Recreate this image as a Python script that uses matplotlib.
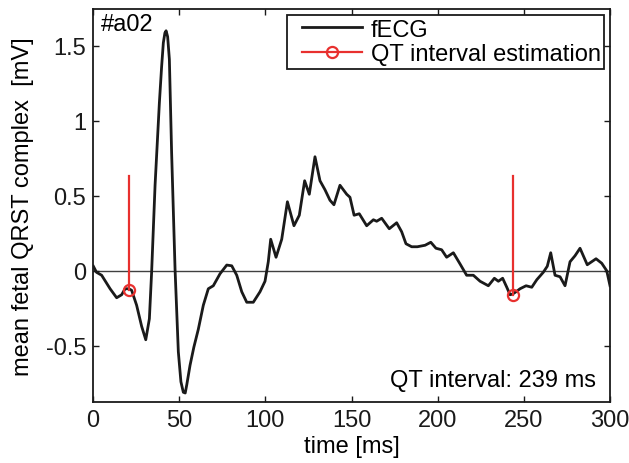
import numpy as np
import matplotlib
matplotlib.use("Agg")
import matplotlib.pyplot as plt
from matplotlib.lines import Line2D
from matplotlib.legend_handler import HandlerLine2D

plt.rcParams['font.family'] = ['Liberation Sans', 'DejaVu Sans']
plt.rcParams['axes.unicode_minus'] = False

# mean fetal QRST complex
time_ms = [0.2, 2, 5, 9.9, 13.7, 16.6, 18.6, 20.7, 22.4, 25.3, 28.2, 30.6, 32.7, 34, 36,
           38.5, 39.8, 40.8, 41.7, 42.4, 43.3, 44.3, 45.6, 47.6, 49.5, 51, 52.4, 53.5,
           54.4, 56.3, 58.5, 61.1, 64,
           66.9, 69.8, 73.7, 77.6, 80.5, 83.4, 86.3, 89.2, 93, 96.9, 99.8, 101.7, 103.1,
           106.2, 109.5, 112.8, 116.6, 119.7, 122.8, 125.5, 128.8, 131.7, 134.6, 137.5,
           139.8, 143.3, 147.2, 149.1, 151.5, 154.5, 158.8, 162.7, 164.6, 167.5, 171.9,
           176.2, 179.1, 181.6, 184.9, 188.2, 192.7, 196, 199, 202.3, 205.2, 209.1, 213,
           216.8, 220.7, 224.6, 229.4, 232.9, 235.2, 237.7, 240.1, 242, 243.5, 245.5,
           247.8, 251.3, 254.6, 257.5, 261.3, 263.6, 265.6, 268.1, 271, 273.9, 276.8,
           279.7, 282.6, 286.8, 291.9, 295.2, 298.1, 300]
fecg = [0.03, -0.01, -0.03, -0.12, -0.18, -0.16, -0.12, -0.12, -0.13, -0.23, -0.37, -0.46,
        -0.32, -0.01, 0.57, 1.12, 1.36, 1.52, 1.585, 1.60, 1.56, 1.41, 0.79, 0.01, -0.54,
        -0.74, -0.81, -0.815, -0.76, -0.63,
        -0.51, -0.39, -0.23, -0.12, -0.10, -0.02, 0.038, 0.033, -0.03, -0.14, -0.21, -0.21,
        -0.14, -0.07, 0.06, 0.21, 0.09, 0.21, 0.46, 0.30, 0.37, 0.60, 0.51, 0.76, 0.60,
        0.54, 0.47, 0.44, 0.57, 0.51, 0.49, 0.37, 0.38, 0.30, 0.34, 0.33, 0.35, 0.28, 0.32,
        0.26, 0.18, 0.16, 0.16, 0.17, 0.19, 0.15, 0.14, 0.09, 0.12, 0.045, -0.03, -0.03,
        -0.07, -0.10, -0.05, -0.07, -0.05, -0.11, -0.16, -0.155, -0.14, -0.12, -0.10, -0.11,
        -0.06, -0.01, 0.03, 0.12, -0.03, -0.04, -0.10, 0.06, 0.10, 0.15, 0.04, 0.08, 0.05,
        0.0, -0.10]

qt_x = [20.7, 243.5]       # Q onset, T end
qt_y = [-0.127, -0.162]
stem_top = 0.63
record = "#a02"
qt_text = "QT interval: 239 ms"

red = '#e8302e'
fs = 17


class LeadHandler(HandlerLine2D):
    # matlab-style legend: some blank space before the sample line
    def get_xdata(self, legend, xdescent, ydescent, width, height, fontsize):
        x0 = -xdescent + 0.167 * width
        x1 = -xdescent + width
        return [x0, x1], [0.5 * (x0 + x1)]


fig = plt.figure(figsize=(6.29, 4.64), dpi=100)
ax = fig.add_axes([0.1479, 0.1321, 0.8219, 0.8457])

ax.axhline(0, color='#404040', lw=1.0, zorder=1)
ax.plot(time_ms, fecg, color='#1a1a1a', lw=2.0, zorder=3)
for x, y in zip(qt_x, qt_y):
    ax.plot([x, x], [stem_top, y], color=red, lw=1.6, zorder=4)
ax.plot(qt_x, qt_y, 'o', mfc='none', mec=red, mew=1.6, ms=8, zorder=5)

ax.set_xlim(0, 300)
ax.set_ylim(-0.873, 1.743)
ax.set_xticks([0, 50, 100, 150, 200, 250, 300])
ax.set_yticks([-0.5, 0, 0.5, 1, 1.5])
ax.set_yticklabels(['-0.5', '0', '0.5', '1', '1.5'])
ax.tick_params(direction='in', length=4, width=1, top=True, right=True,
               labelsize=fs, pad=5, colors='#1a1a1a')
for s in ax.spines.values():
    s.set_linewidth(1.3)
    s.set_color('#1a1a1a')

ax.set_xlabel('time [ms]', fontsize=fs, labelpad=3)
ax.set_ylabel('mean fetal QRST complex  [mV]', fontsize=fs, labelpad=8)

ax.text(0.015, 0.99, record, transform=ax.transAxes, ha='left', va='top', fontsize=fs)
ax.text(0.973, 0.041, qt_text, transform=ax.transAxes, ha='right', va='baseline', fontsize=fs)

h1 = Line2D([], [], color='#1a1a1a', lw=2.0)
h2 = Line2D([], [], color=red, lw=1.6, marker='o', mfc='none', mec=red, mew=1.6, ms=8,
            markevery=[2])
leg = ax.legend([h1, h2], ['fECG', 'QT interval estimation'], loc='upper right',
                fontsize=fs, frameon=True, fancybox=False, edgecolor='#1a1a1a',
                framealpha=1, borderaxespad=0.25, handlelength=3.06, handletextpad=0.35,
                labelspacing=0.1, borderpad=0.15, numpoints=1,
                handler_map={Line2D: LeadHandler()})
leg.get_frame().set_linewidth(1.3)

fig.savefig('out.png', dpi=100)
